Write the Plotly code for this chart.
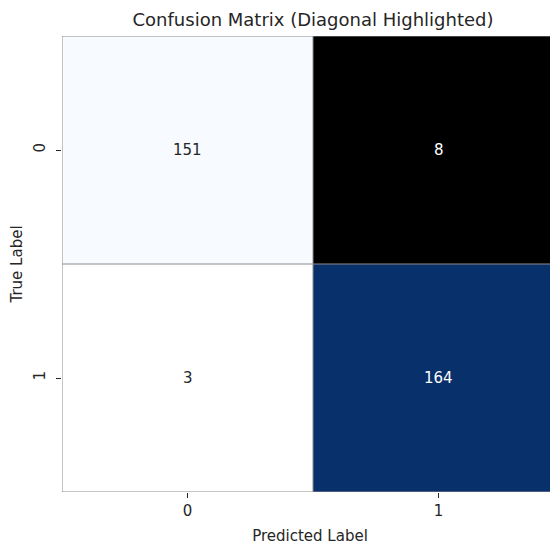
import plotly.graph_objects as go

classes = ["0", "1"]
matrix = [[151, 8], [3, 164]]

diag = [[matrix[i][j] if i == j else None for j in range(2)] for i in range(2)]
off = [[matrix[i][j] if i != j else None for j in range(2)] for i in range(2)]

def vals(m):
    return [v for row in m for v in row if v is not None]

fig = go.Figure()
fig.add_trace(go.Heatmap(
    z=off, x=[0, 1], y=[0, 1], colorscale="Greys",
    zmin=min(vals(off)), zmax=max(vals(off)), showscale=False, hoverongaps=False,
))
fig.add_trace(go.Heatmap(
    z=diag, x=[0, 1], y=[0, 1], colorscale="Blues",
    zmin=min(vals(diag)), zmax=max(vals(diag)), showscale=False, hoverongaps=False,
))

for i in range(2):
    for j in range(2):
        v = matrix[i][j]
        if i == j:
            dark = (v - min(vals(diag))) / (max(vals(diag)) - min(vals(diag))) > 0.5
        else:
            dark = (v - min(vals(off))) / (max(vals(off)) - min(vals(off))) > 0.5
        fig.add_annotation(x=j, y=i, xref="x", yref="y", text=str(v), showarrow=False,
                           font=dict(size=15, color="white" if dark else "#262626",
                                     family="DejaVu Sans"))

line = dict(color="#8c8c8c", width=1)
for k in [-0.5, 0.5, 1.5]:
    fig.add_shape(type="line", x0=k, x1=k, y0=-0.5, y1=1.5, xref="x", yref="y", line=line, layer="above")
    fig.add_shape(type="line", y0=k, y1=k, x0=-0.5, x1=1.5, xref="x", yref="y", line=line, layer="above")

fig.update_layout(
    width=550, height=537,
    margin=dict(l=54, r=0, t=28, b=53),
    paper_bgcolor="white", plot_bgcolor="white",
    font=dict(family="DejaVu Sans", size=15, color="#262626"),
    title=dict(text="Confusion Matrix (Diagonal Highlighted)", x=(313 - 8) / 550, xref="container",
               xanchor="center", y=1 - 12 / 537, yanchor="middle", yref="container",
               font=dict(size=18, color="#262626")),
    showlegend=False,
)
fig.update_xaxes(
    range=[-0.5, 1.476], tickvals=[0, 1], ticktext=classes,
    ticks="outside", ticklen=5, tickcolor="#262626", showgrid=False, zeroline=False,
    showline=False, title=dict(text="Predicted Label", standoff=12, font=dict(size=15)),
    tickfont=dict(size=15),
)
fig.update_yaxes(
    range=[1.5, -0.5], tickvals=[0, 1], ticktext=classes, tickangle=-90,
    ticks="outside", ticklen=5, tickcolor="#262626", showgrid=False, zeroline=False,
    showline=False, ticklabelstandoff=5,
    title=dict(text="True Label", standoff=6, font=dict(size=15)),
    tickfont=dict(size=15),
)

fig.write_html("out.html")
